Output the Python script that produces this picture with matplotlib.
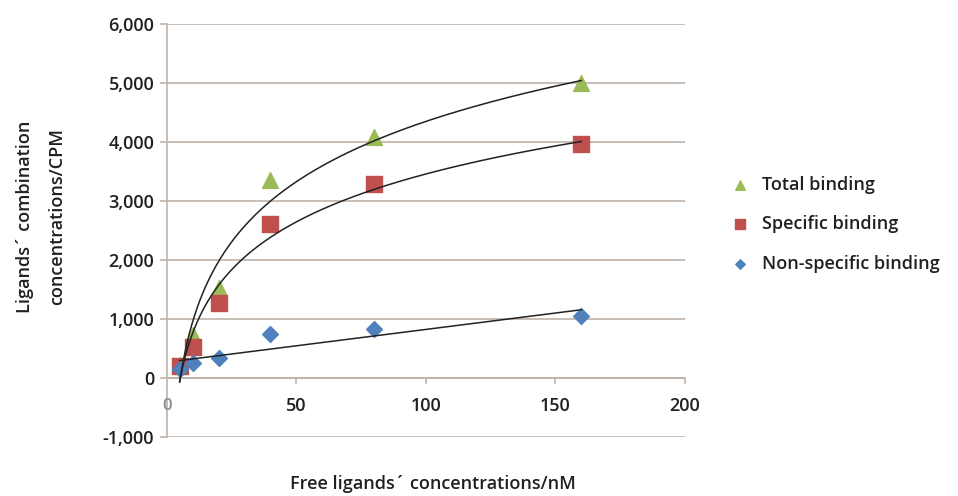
import numpy as np
import matplotlib
matplotlib.use("Agg")
import matplotlib.pyplot as plt

plt.rcParams['font.family'] = ['Open Sans', 'DejaVu Sans']

# Data
conc = [5, 10, 20, 40, 80, 160]
total = [220, 730, 1520, 3350, 4080, 5000]
specific = [200, 530, 1265, 2610, 3290, 3960]
nonspecific = [150, 250, 335, 740, 825, 1050]

grid_col = '#bfb3ab'
text_col = '#231f20'
fs = 13

fig = plt.figure(figsize=(9.58, 4.96), dpi=100)
ax = fig.add_axes([0.174, 0.119, 0.541, 0.833])

# trendlines (log for total/specific, linear for non-specific), like Excel
xs = np.linspace(5, 160, 300)
for ys in (total, specific):
    a, b = np.polyfit(np.log(conc), ys, 1)
    ax.plot(xs, a * np.log(xs) + b, color='#222222', lw=1.1, zorder=4)
m, c = np.polyfit(conc, nonspecific, 1)
ax.plot(xs, m * xs + c, color='#222222', lw=1.1, zorder=4)

ax.scatter(conc, total, marker='^', s=130, color='#9bbb59', zorder=3, label='Total binding')
ax.scatter(conc, specific, marker='s', s=120, color='#c0504d', zorder=3, label='Specific binding')
ax.scatter(conc, nonspecific, marker='D', s=65, color='#4f81bd', zorder=3, label='Non-specific binding')

ax.set_xlim(0, 200)
ax.set_ylim(-1000, 6000)
ax.set_yticks(range(-1000, 6001, 1000))
ax.set_yticklabels([f'{v:,}' for v in range(-1000, 6001, 1000)])
ax.set_xticks([])

ax.yaxis.grid(True, color=grid_col, lw=1.2)
ax.set_axisbelow(True)
for s in ('top', 'right', 'bottom'):
    ax.spines[s].set_visible(False)
ax.spines['left'].set_color(grid_col)
ax.spines['left'].set_linewidth(1.2)
ax.axhline(0, color=grid_col, lw=1.2, zorder=1)

ax.tick_params(axis='y', length=5, color=grid_col, width=1.2, labelsize=fs,
               labelcolor=text_col, pad=4)
for lab in ax.get_yticklabels():
    lab.set_fontweight('semibold')

# x axis sits on the zero line, labels just below it
ax.text(0, -480, '0', ha='center', va='center', fontsize=fs - 1, color='#8a8a8a',
        fontweight='semibold')
for xv in [50, 100, 150, 200]:
    ax.plot([xv, xv], [0, -90], color=grid_col, lw=1.2, zorder=1, clip_on=False)
    ax.text(xv, -480, str(xv), ha='center', va='center', fontsize=fs,
            color=text_col, fontweight='semibold')

fig.text(0.452, 0.024, 'Free ligands´ concentrations/nM', ha='center', va='center',
         fontsize=fs, color=text_col, fontweight='semibold')
fig.text(0.043, 0.563, 'Ligands´ combination\nconcentrations/CPM', ha='center', va='center',
         rotation=90, fontsize=fs, color=text_col, fontweight='semibold', linespacing=2.0)

leg = ax.legend(loc='center left', bbox_to_anchor=(1.04, 0.515), frameon=False,
                fontsize=fs, handletextpad=0.2, labelspacing=1.2, markerscale=0.6)
for t in leg.get_texts():
    t.set_color(text_col)
    t.set_fontweight('semibold')

fig.savefig('out.png', dpi=100)
